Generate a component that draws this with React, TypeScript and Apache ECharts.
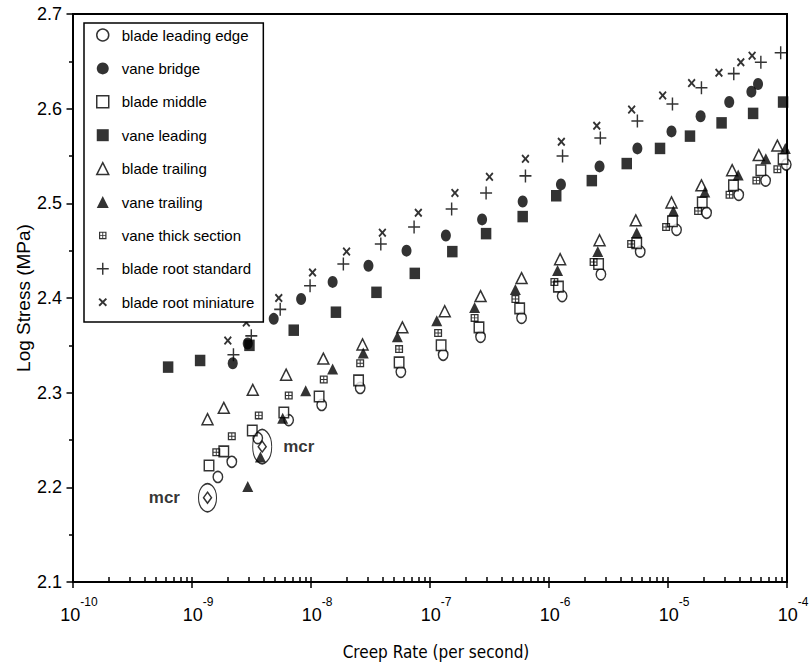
import React, { useEffect, useRef } from "react";
import * as echarts from "echarts";

// ---------- data (creep rate per second, log stress MPa) ----------
const bladeLeadingEdgeX = [1.65e-9, 2.16e-9, 3.57e-9, 6.49e-9, 1.23e-8, 2.59e-8, 5.69e-8, 1.29e-7, 2.66e-7, 5.88e-7, 1.29e-6, 2.73e-6, 5.84e-6, 1.18e-5, 2.11e-5, 3.93e-5, 6.61e-5, 9.86e-5];
const bladeLeadingEdgeY = [2.211, 2.227, 2.252, 2.271, 2.287, 2.305, 2.322, 2.34, 2.359, 2.379, 2.402, 2.425, 2.449, 2.472, 2.49, 2.509, 2.524, 2.541];

const vaneBridgeX = [2.2e-9, 2.94e-9, 4.86e-9, 8.26e-9, 1.52e-8, 3.04e-8, 6.35e-8, 1.36e-7, 2.74e-7, 6.01e-7, 1.26e-6, 2.66e-6, 5.53e-6, 1.07e-5, 1.88e-5, 3.27e-5, 5.02e-5, 5.71e-5];
const vaneBridgeY = [2.331, 2.352, 2.378, 2.399, 2.417, 2.434, 2.45, 2.466, 2.483, 2.502, 2.52, 2.539, 2.558, 2.576, 2.592, 2.607, 2.618, 2.626];

const bladeMiddleX = [1.39e-9, 1.85e-9, 3.21e-9, 5.91e-9, 1.17e-8, 2.51e-8, 5.5e-8, 1.24e-7, 2.58e-7, 5.67e-7, 1.2e-6, 2.61e-6, 5.46e-6, 1.09e-5, 1.94e-5, 3.55e-5, 6.03e-5, 9.27e-5];
const bladeMiddleY = [2.223, 2.238, 2.26, 2.279, 2.296, 2.313, 2.332, 2.35, 2.369, 2.389, 2.412, 2.436, 2.458, 2.481, 2.501, 2.519, 2.535, 2.547];

const vaneLeadingX = [6.3e-10, 1.17e-9, 3.04e-9, 7.16e-9, 1.62e-8, 3.55e-8, 7.45e-8, 1.54e-7, 2.96e-7, 6.01e-7, 1.15e-6, 2.29e-6, 4.5e-6, 8.57e-6, 1.53e-5, 2.82e-5, 5.19e-5, 9.27e-5];
const vaneLeadingY = [2.327, 2.334, 2.35, 2.366, 2.385, 2.406, 2.426, 2.449, 2.468, 2.486, 2.508, 2.524, 2.542, 2.558, 2.571, 2.585, 2.595, 2.607];

const bladeTrailingX = [1.35e-9, 1.85e-9, 3.24e-9, 6.18e-9, 1.27e-8, 2.71e-8, 5.86e-8, 1.33e-7, 2.66e-7, 5.88e-7, 1.24e-6, 2.66e-6, 5.36e-6, 1.07e-5, 1.91e-5, 3.46e-5, 5.79e-5, 8.3e-5];
const bladeTrailingY = [2.272, 2.284, 2.303, 2.319, 2.336, 2.351, 2.369, 2.386, 2.402, 2.421, 2.441, 2.461, 2.482, 2.501, 2.519, 2.535, 2.551, 2.561];

const vaneTrailingX = [2.94e-9, 3.76e-9, 5.78e-9, 9.02e-9, 1.52e-8, 2.75e-8, 5.32e-8, 1.14e-7, 2.37e-7, 5.22e-7, 1.18e-6, 2.57e-6, 5.46e-6, 1.11e-5, 2.04e-5, 3.89e-5, 6.64e-5, 9.68e-5];
const vaneTrailingY = [2.201, 2.232, 2.273, 2.302, 2.325, 2.342, 2.359, 2.376, 2.39, 2.409, 2.429, 2.449, 2.469, 2.492, 2.512, 2.53, 2.547, 2.558];

const vaneThickX = [1.6e-9, 2.16e-9, 3.64e-9, 6.5e-9, 1.28e-8, 2.59e-8, 5.5e-8, 1.17e-7, 2.37e-7, 5.22e-7, 1.11e-6, 2.37e-6, 4.9e-6, 9.64e-6, 1.79e-5, 3.29e-5, 5.53e-5, 8.3e-5];
const vaneThickY = [2.237, 2.254, 2.276, 2.297, 2.314, 2.331, 2.346, 2.363, 2.379, 2.399, 2.417, 2.438, 2.457, 2.475, 2.492, 2.509, 2.524, 2.536];

const rootStandardX = [2.23e-9, 3.15e-9, 5.51e-9, 9.82e-9, 1.87e-8, 3.86e-8, 7.35e-8, 1.52e-7, 2.96e-7, 6.34e-7, 1.3e-6, 2.7e-6, 5.53e-6, 1.09e-5, 1.91e-5, 3.57e-5, 6.03e-5, 8.85e-5];
const rootStandardY = [2.34, 2.36, 2.388, 2.413, 2.436, 2.457, 2.475, 2.494, 2.511, 2.529, 2.55, 2.569, 2.587, 2.605, 2.622, 2.637, 2.649, 2.659];

const rootMiniatureX = [2.0e-9, 2.86e-9, 5.36e-9, 1.03e-8, 1.99e-8, 3.98e-8, 7.98e-8, 1.62e-7, 3.16e-7, 6.34e-7, 1.27e-6, 2.52e-6, 4.95e-6, 9.02e-6, 1.58e-5, 2.68e-5, 4.09e-5, 5.09e-5];
const rootMiniatureY = [2.355, 2.374, 2.4, 2.427, 2.449, 2.469, 2.49, 2.511, 2.528, 2.547, 2.565, 2.582, 2.599, 2.614, 2.627, 2.638, 2.649, 2.656];

// minimum creep rate ("mcr") points, circled
const mcrX = [3.89e-9, 1.35e-9];
const mcrY = [2.243, 2.189];
const mcrLabel = "mcr";

const seriesNames = [
  "blade leading edge",
  "vane bridge",
  "blade middle",
  "vane leading",
  "blade trailing",
  "vane trailing",
  "vane thick section",
  "blade root standard",
  "blade root miniature",
];

const xMin = 1e-10;
const xMax = 1e-4;
const yMin = 2.1;
const yMax = 2.7;
const yStep = 0.1;

const xTitle = "Creep Rate (per second)";
const yTitle = "Log Stress (MPa)";

// ---------- styling ----------
const FONT = "'Liberation Sans', Arial, Helvetica, sans-serif";
const XNAME_FONT = "'DejaVu Sans Condensed', 'Liberation Sans Narrow', 'Liberation Sans', Arial, sans-serif";

const THICK_BODY = "M0,0H10V10H0Z M1.6,1.6V4.4H4.4V1.6Z M5.6,1.6V4.4H8.4V1.6Z M1.6,5.6V8.4H4.4V5.6Z M5.6,5.6V8.4H8.4V5.6Z";
const CROSS_BODY = "M0,1.6L1.6,0L5,3.4L8.4,0L10,1.6L6.6,5L10,8.4L8.4,10L5,6.6L1.6,10L0,8.4L3.4,5Z";
const PLUS_BODY = "M4.4,0H5.6V4.4H10V5.6H5.6V10H4.4V5.6H0V4.4H4.4Z";
const THICK = "path://" + THICK_BODY;
const CROSS = "path://" + CROSS_BODY;
const PLUS = "path://" + PLUS_BODY;
const THICK_LEGEND = "path://M-3,-3M13,13" + THICK_BODY;
const CROSS_LEGEND = "path://M-2,-2M12,12" + CROSS_BODY;

const hollow = { color: "#fff", borderColor: "#000", borderWidth: 1.5 };
const filled = { color: "#000", borderWidth: 0 };

const pairs = (xs: number[], ys: number[]) => xs.map((x, i) => [x, ys[i]]);

const seriesDefs = [
  { x: bladeLeadingEdgeX, y: bladeLeadingEdgeY, symbol: "circle", size: [9.5, 11], style: hollow, icon: "circle" },
  { x: vaneBridgeX, y: vaneBridgeY, symbol: "circle", size: [10, 12], style: filled, icon: "circle" },
  { x: bladeMiddleX, y: bladeMiddleY, symbol: "rect", size: [9.5, 10.5], style: hollow, icon: "rect" },
  { x: vaneLeadingX, y: vaneLeadingY, symbol: "rect", size: [10.5, 11.5], style: filled, icon: "rect" },
  { x: bladeTrailingX, y: bladeTrailingY, symbol: "triangle", size: [11, 11], style: hollow, icon: "triangle" },
  { x: vaneTrailingX, y: vaneTrailingY, symbol: "triangle", size: [11, 11], style: filled, icon: "triangle" },
  { x: vaneThickX, y: vaneThickY, symbol: THICK, size: [8, 8], style: filled, icon: THICK_LEGEND },
  { x: rootStandardX, y: rootStandardY, symbol: PLUS, size: [12, 13], style: filled, icon: PLUS },
  { x: rootMiniatureX, y: rootMiniatureY, symbol: CROSS, size: [8, 9], style: filled, icon: CROSS_LEGEND },
];

function buildOption(): any {
  const scatterSeries = seriesDefs.map((d, i) => ({
    type: "scatter",
    name: seriesNames[i],
    data: pairs(d.x, d.y),
    symbol: d.symbol,
    symbolSize: d.size,
    itemStyle: d.style,
    xAxisIndex: 0,
    yAxisIndex: 0,
    z: 3,
  }));

  const mcrData = pairs(mcrX, mcrY);

  return {
    animation: false,
    backgroundColor: "#fff",
    grid: { left: 73, top: 14, width: 714, height: 568, show: true, borderColor: "#000", borderWidth: 2, containLabel: false },
    legend: {
      orient: "vertical",
      left: 84,
      top: 23,
      padding: [4.5, 9, 12.3, 12],
      itemGap: 18.4,
      itemWidth: 12,
      itemHeight: 12,
      borderColor: "#000",
      borderWidth: 1.5,
      backgroundColor: "#fff",
      selectedMode: false,
      textStyle: { fontFamily: FONT, fontSize: 15, color: "#000", lineHeight: 15, padding: [0, 0, 0, 8] },
      data: seriesDefs.map((d, i) => ({ name: seriesNames[i], icon: d.icon, itemStyle: d.style })),
      z: 20,
    },
    xAxis: [
      {
        type: "log",
        logBase: 10,
        min: xMin,
        max: xMax,
        splitNumber: 6,
        position: "bottom",
        axisLine: { show: true, lineStyle: { color: "#000", width: 2 } },
        axisTick: { show: true, inside: false, length: 6, lineStyle: { color: "#000", width: 1.5 } },
        minorTick: { show: false },
        splitLine: { show: false },
        axisLabel: {
          margin: 14,
          padding: [0, 0, 0, 12],
          showMinLabel: true,
          showMaxLabel: true,
          formatter: (v: number) => `{b|10}{s|${Math.round(Math.log10(v))}}`,
          rich: {
            b: { fontFamily: FONT, fontSize: 18, color: "#000", lineHeight: 28, verticalAlign: "bottom" },
            s: { fontFamily: FONT, fontSize: 12, color: "#000", lineHeight: 12, verticalAlign: "top" },
          },
        },
        name: xTitle,
        nameLocation: "middle",
        nameGap: 61,
        nameMoveOverlap: false,
        nameTextStyle: { fontFamily: XNAME_FONT, fontSize: 17, color: "#000", padding: [0, 0, 0, 12] },
      },
      {
        // companion axis on the same log scale: inward decade ticks and log-spaced minor ticks
        type: "log",
        logBase: 10,
        min: xMin,
        max: xMax,
        splitNumber: 6,
        position: "bottom",
        offset: 0,
        axisLine: { show: false },
        axisTick: { show: true, inside: true, length: 5, lineStyle: { color: "#000", width: 1.5 } },
        minorTick: { show: true, splitNumber: 9, length: 5, lineStyle: { color: "#000", width: 1.5 } },
        splitLine: { show: false },
        minorSplitLine: { show: false },
        axisLabel: { show: false },
      },
    ],
    yAxis: {
      type: "value",
      min: yMin,
      max: yMax,
      interval: yStep,
      axisLine: { show: true, lineStyle: { color: "#000", width: 2 } },
      axisTick: { show: true, inside: false, length: 6.5, lineStyle: { color: "#000", width: 1.5 } },
      minorTick: { show: true, splitNumber: 2, length: 4, lineStyle: { color: "#000", width: 1.5 } },
      splitLine: { show: false },
      minorSplitLine: { show: false },
      axisLabel: { margin: 11, fontFamily: FONT, fontSize: 18, color: "#000", formatter: (v: number) => v.toFixed(1) },
      name: yTitle,
      nameLocation: "middle",
      nameGap: 40,
      nameMoveOverlap: false,
      nameTextStyle: { fontFamily: FONT, fontSize: 19, color: "#000" },
    },
    series: [
      ...scatterSeries,
      {
        type: "scatter",
        name: "mcr point",
        data: mcrData,
        symbol: "diamond",
        symbolSize: [8, 11],
        itemStyle: { color: "#fff", borderColor: "#000", borderWidth: 1.5 },
        xAxisIndex: 0,
        yAxisIndex: 0,
        z: 4,
      },
      {
        type: "scatter",
        name: "mcr ring",
        data: [
          { value: mcrData[0], symbolSize: [19, 34], label: { show: true, position: "right", distance: 11, formatter: mcrLabel } },
          { value: mcrData[1], symbolSize: [18, 28], label: { show: true, position: "left", distance: 18, formatter: mcrLabel } },
        ],
        symbol: "circle",
        itemStyle: { color: "transparent", borderColor: "#000", borderWidth: 1.3 },
        label: { fontFamily: FONT, fontSize: 17, fontWeight: "bold", color: "#000" },
        xAxisIndex: 0,
        yAxisIndex: 0,
        z: 5,
      },
    ],
  };
}

export default function App() {
  const ref = useRef<HTMLDivElement>(null);
  useEffect(() => {
    if (!ref.current) return;
    const chart = echarts.init(ref.current, null, { renderer: "svg" });
    chart.setOption(buildOption());
    return () => chart.dispose();
  }, []);
  return (
    <div
      ref={ref}
      style={{ position: "fixed", left: 0, top: 0, width: 812, height: 668, background: "#fff" }}
    />
  );
}
